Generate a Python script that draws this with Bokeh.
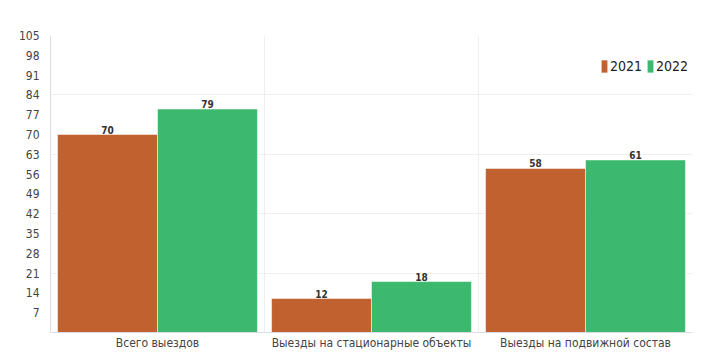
from bokeh.plotting import figure
from bokeh.models import FactorRange, ColumnDataSource, FixedTicker, Span, Legend, LegendItem, LabelSet
from bokeh.core.properties import value
from bokeh.transform import dodge
from bokeh.embed import file_html
from bokeh.resources import INLINE

categories = ["Всего выездов", "Выезды на стационарные объекты", "Выезды на подвижной состав"]
years = ["2021", "2022"]
values_2021 = [70, 12, 58]
values_2022 = [79, 18, 61]
y_ticks = [7, 14, 21, 28, 35, 42, 49, 56, 63, 70, 77, 84, 91, 98, 105]
grid_ticks = [21, 42, 63, 84, 105]

FONT = "DejaVu Sans Condensed"
C21 = "#C0612F"
C22 = "#3CB96F"

src = ColumnDataSource(dict(cat=categories, v21=values_2021, v22=values_2022,
                            t21=[str(v) for v in values_2021], t22=[str(v) for v in values_2022]))

p = figure(x_range=FactorRange(*categories, range_padding=0), y_range=(0, 105),
           width=694, height=352, output_backend="svg", toolbar_location=None,
           min_border_left=50, min_border_top=35, min_border_right=2, min_border_bottom=0)
p.outline_line_color = None

bw = 0.467
r1 = p.vbar(x=dodge("cat", -bw / 2, range=p.x_range), top="v21", width=bw, source=src,
            fill_color=C21, line_color="white", line_width=0.5)
r2 = p.vbar(x=dodge("cat", bw / 2, range=p.x_range), top="v22", width=bw, source=src,
            fill_color=C22, line_color="white", line_width=0.5)

for col, off in (("t21", -bw / 2), ("t22", bw / 2)):
    lab = LabelSet(x=dodge("cat", off, range=p.x_range), y=col.replace("t", "v"), text=col, source=src,
                   text_align="center", text_baseline="bottom", y_offset=1,
                   text_font=value(FONT), text_font_size=value("10px"), text_font_style="bold",
                   text_color="#333333")
    p.add_layout(lab)

for loc in (1, 2):
    p.add_layout(Span(location=loc, dimension="height", line_color="#eeeeee", line_width=1))

p.yaxis.ticker = FixedTicker(ticks=y_ticks)
p.ygrid.ticker = FixedTicker(ticks=grid_ticks)
p.ygrid.grid_line_color = "#f0f0f0"
p.xgrid.grid_line_color = None
p.yaxis.major_label_text_font = FONT
p.yaxis.major_label_text_font_size = "12px"
p.yaxis.major_label_text_color = "#444444"
p.yaxis.axis_line_color = "#d8dde6"
p.yaxis.major_tick_line_color = None
p.yaxis.minor_tick_line_color = None
p.xaxis.axis_line_color = "#d8dde6"
p.xaxis.major_tick_line_color = None
p.xaxis.major_tick_out = 0
p.xaxis.major_label_text_font = FONT
p.xaxis.major_label_text_font_size = "12px"
p.xaxis.major_label_text_color = "#444444"
p.xaxis.major_label_standoff = 3

legend = Legend(items=[LegendItem(label="2021", renderers=[r1]), LegendItem(label="2022", renderers=[r2])],
                orientation="horizontal", location=(550, 258), border_line_color=None,
                background_fill_alpha=0, label_text_font=FONT, label_text_font_size="14px",
                label_text_color="#222222", glyph_width=8, glyph_height=16, spacing=4,
                label_standoff=2, padding=0, margin=0)
p.add_layout(legend)

open("out.html", "w").write(file_html(p, INLINE))
